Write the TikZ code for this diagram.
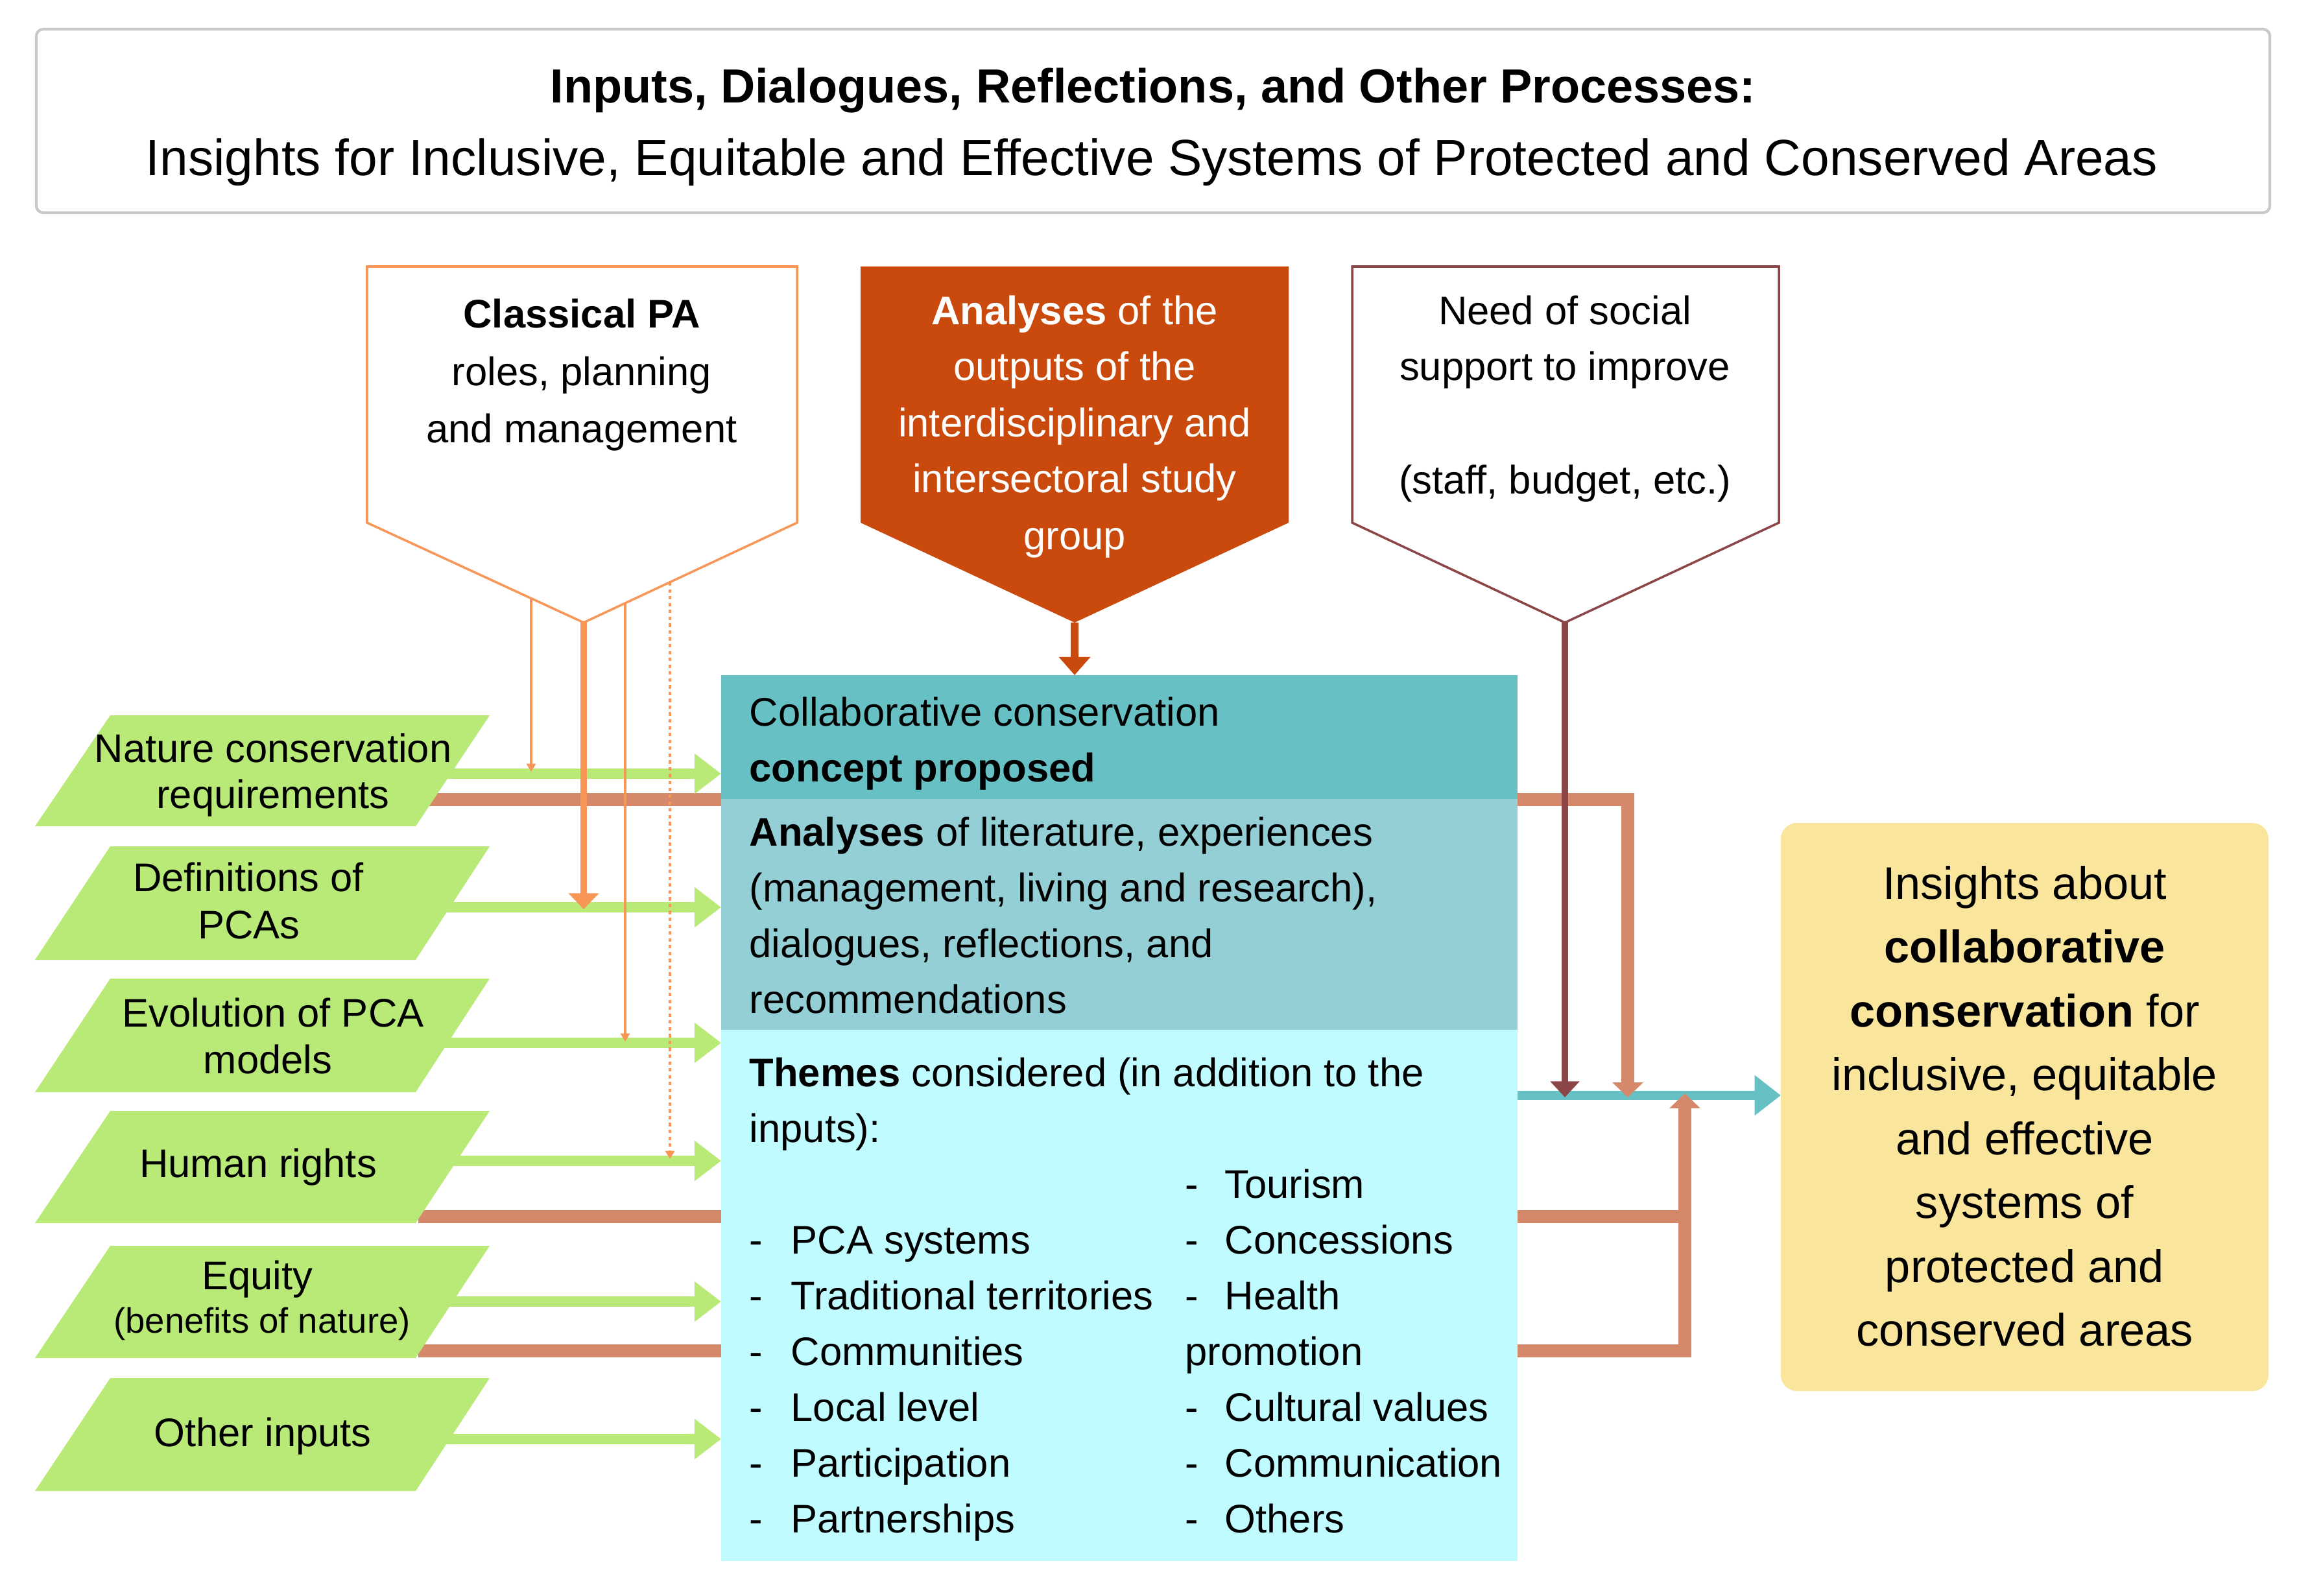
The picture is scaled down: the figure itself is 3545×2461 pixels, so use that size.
\documentclass[tikz,border=0pt]{standalone}
\usepackage{fontspec}
\setmainfont{Liberation Sans}
\usetikzlibrary{arrows.meta}
\definecolor{grn}{RGB}{185,234,120}
\definecolor{paor}{RGB}{248,150,88}
\definecolor{dor}{RGB}{201,74,12}
\definecolor{maro}{RGB}{140,70,72}
\definecolor{salm}{RGB}{213,137,106}
\definecolor{tealA}{RGB}{103,192,196}
\definecolor{tealB}{RGB}{148,207,214}
\definecolor{tealC}{RGB}{192,251,255}
\definecolor{yel}{RGB}{249,230,156}
\definecolor{gryb}{RGB}{200,200,200}
\newcommand{\pgram}[2]{\fill[grn] (170,#1) -- (755,#1) -- (641,#2) -- (54,#2) -- cycle;}
\begin{document}
\begin{tikzpicture}[x=0.01cm,y=-0.01cm,
  txt/.style={inner sep=0pt, font=\fontsize{17.5pt}{21pt}\selectfont},
  ttl/.style={inner sep=0pt, anchor=base},
  ins/.style={inner sep=0pt, anchor=base, font=\fontsize{20pt}{24pt}\selectfont},
  bw/.style={txt, anchor=base west},
  bc/.style={txt, anchor=base},
  garrow/.style={draw=grn, line width=4.3pt, -{Triangle[length=11.7pt,width=17pt]}},
  sline/.style={draw=salm, line width=5.6pt},
  thinor/.style={draw=paor, line width=0.9pt, -{Triangle[length=3.5pt,width=4pt]}}]
\useasboundingbox (0,0) rectangle (3545,2461);

% title
\draw[gryb, line width=1.2pt, rounded corners=3pt] (56,45) rectangle (3500,328);
\node[ttl, font=\bfseries\fontsize{21pt}{25pt}\selectfont] (ttl1) at (1778,159) {Inputs, Dialogues, Reflections, and Other Processes:};
\node[ttl, font=\fontsize{22.3pt}{27pt}\selectfont] (ttl2) at (1776,271) {Insights for Inclusive, Equitable and Effective Systems of Protected and Conserved Areas};

% top pentagons
\draw[paor, line width=1pt, fill=white] (566,411) -- (1229,411) -- (1229,806) -- (900,960) -- (566,806) -- cycle;
\coordinate (cpa) at (900,960);
\fill[dor] (1327,411) -- (1987,411) -- (1987,806) -- (1657,960) -- (1327,806) -- cycle;
\coordinate (ana) at (1657,960);
\draw[maro, line width=1pt, fill=white] (2085,411) -- (2743,411) -- (2743,806) -- (2413,960) -- (2085,806) -- cycle;
\coordinate (need) at (2413,960);

\node[bc] (c1) at (897,506) {\textbf{Classical PA}};
\node[bc] (c2) at (897,594) {roles, planning};
\node[bc] (c3) at (897,682) {and management};

\node[bc, text=white] (a1) at (1657,501) {\textbf{Analyses} of the};
\node[bc, text=white] (a2) at (1657,587) {outputs of the};
\node[bc, text=white] (a3) at (1657,673) {interdisciplinary and};
\node[bc, text=white] (a4) at (1657,759) {intersectoral study};
\node[bc, text=white] (a5) at (1657,847) {group};

\node[bc] (n1) at (2413,501) {Need of social};
\node[bc] (n2) at (2413,587) {support to improve};
\node[bc] (n3) at (2413,761) {(staff, budget, etc.)};

% salmon connectors (behind)
\coordinate (s1a) at (600,1233);
\coordinate (s1b) at (2510,1233);
\coordinate (s1c) at (2510,1692);
\coordinate (s2a) at (645,1876);
\coordinate (s2b) at (2598,1876);
\coordinate (s3a) at (645,2083);
\coordinate (s3b) at (2598,2083);
\coordinate (s3c) at (2598,1686);
\draw[sline, -{Triangle[length=6.5pt,width=13pt]}] (s1a) -- (s1b) -- (s1c);
\draw[sline] (s2a) -- (s2b);
\draw[sline, -{Triangle[length=6.5pt,width=13pt]}] (s3a) -- (s3b) -- (s3c);

% green arrows
\coordinate (mbl1) at (1112,1193);
\coordinate (mbl2) at (1112,1399);
\coordinate (mbl3) at (1112,1608);
\coordinate (mbl4) at (1112,1790);
\coordinate (mbl5) at (1112,2007);
\coordinate (mbl6) at (1112,2219);
\draw[garrow] (600,1193) -- (mbl1);
\draw[garrow] (600,1399) -- (mbl2);
\draw[garrow] (600,1608) -- (mbl3);
\draw[garrow] (600,1790) -- (mbl4);
\draw[garrow] (600,2007) -- (mbl5);
\draw[garrow] (600,2219) -- (mbl6);

% parallelograms
\pgram{1103}{1274}
\pgram{1305}{1480}
\pgram{1509}{1684}
\pgram{1713}{1886}
\pgram{1921}{2094}
\pgram{2125}{2299}
\node[bc] (p1a) at (421,1175) {Nature conservation};
\node[bc] (p1b) at (421,1246) {requirements};
\node[bc] (p2a) at (383,1374) {Definitions of};
\node[bc] (p2b) at (384,1447) {PCAs};
\node[bc] (p3a) at (421,1583) {Evolution of PCA};
\node[bc] (p3b) at (413,1655) {models};
\node[bc] (p4) at (398,1815) {Human rights};
\node[bc] (p5a) at (397,1988) {Equity};
\node[bc, font=\fontsize{15.5pt}{19pt}\selectfont] (p5b) at (404,2055) {(benefits of nature)};
\node[bc] (p6) at (405,2230) {Other inputs};

% main box
\fill[tealA] (1112,1041) rectangle (2340,1232);
\fill[tealB] (1112,1232) rectangle (2340,1588);
\fill[tealC] (1112,1588) rectangle (2340,2407);
\coordinate (mbtop) at (1657,1041);
\coordinate (mbr) at (2340,1689);

\node[bw] (m1) at (1155,1119) {Collaborative conservation};
\node[bw] (m2) at (1155,1205) {\textbf{concept proposed}};
\node[bw] (m3) at (1155,1304) {\textbf{Analyses} of literature, experiences};
\node[bw] (m4) at (1155,1390) {(management, living and research),};
\node[bw] (m5) at (1155,1476) {dialogues, reflections, and};
\node[bw] (m6) at (1155,1562) {recommendations};
\node[bw] (m7) at (1155,1675) {\textbf{Themes} considered (in addition to the};
\node[bw] (m8) at (1155,1761) {inputs):};

\node[bw] (ld1) at (1155,1933) {-};
\node[bw] (lt1) at (1219,1933) {PCA systems};
\node[bw] (ld2) at (1155,2019) {-};
\node[bw] (lt2) at (1219,2019) {Traditional territories};
\node[bw] (ld3) at (1155,2105) {-};
\node[bw] (lt3) at (1219,2105) {Communities};
\node[bw] (ld4) at (1155,2191) {-};
\node[bw] (lt4) at (1219,2191) {Local level};
\node[bw] (ld5) at (1155,2277) {-};
\node[bw] (lt5) at (1219,2277) {Participation};
\node[bw] (ld6) at (1155,2363) {-};
\node[bw] (lt6) at (1219,2363) {Partnerships};

\node[bw] (rd1) at (1827,1847) {-};
\node[bw] (rt1) at (1888,1847) {Tourism};
\node[bw] (rd2) at (1827,1933) {-};
\node[bw] (rt2) at (1888,1933) {Concessions};
\node[bw] (rd3) at (1827,2019) {-};
\node[bw] (rt3) at (1888,2019) {Health};
\node[bw] (rt3b) at (1827,2105) {promotion};
\node[bw] (rd4) at (1827,2191) {-};
\node[bw] (rt4) at (1888,2191) {Cultural values};
\node[bw] (rd5) at (1827,2277) {-};
\node[bw] (rt5) at (1888,2277) {Communication};
\node[bw] (rd6) at (1827,2363) {-};
\node[bw] (rt6) at (1888,2363) {Others};

% orange connectors from Classical PA
\coordinate (o1a) at (819,923);
\coordinate (o1b) at (819,1190);
\coordinate (o2b) at (900,1402);
\coordinate (o3a) at (964,930);
\coordinate (o3b) at (964,1606);
\coordinate (o4a) at (1033,898);
\coordinate (o4b) at (1033,1787);
\draw[thinor] (o1a) -- (o1b);
\draw[draw=paor, line width=2.8pt, -{Triangle[length=7pt,width=13pt]}] (cpa) -- (o2b);
\draw[thinor] (o3a) -- (o3b);
\draw[thinor, dash pattern=on 1.5pt off 1.5pt] (o4a) -- (o4b);

% analyses arrow
\draw[draw=dor, line width=3.2pt, -{Triangle[length=8pt,width=13.5pt]}] (ana) -- (mbtop);

% insights box
\fill[yel, rounded corners=7pt] (2746,1269) rectangle (3498,2145);
\coordinate (insl) at (2746,1689);
\node[ins] (i1) at (3122,1386) {Insights about};
\node[ins] (i2) at (3122,1484) {\textbf{collaborative}};
\node[ins] (i3) at (3122,1583) {\textbf{conservation} for};
\node[ins] (i4) at (3122,1681) {inclusive, equitable};
\node[ins] (i5) at (3122,1780) {and effective};
\node[ins] (i6) at (3122,1878) {systems of};
\node[ins] (i7) at (3122,1977) {protected and};
\node[ins] (i8) at (3122,2075) {conserved areas};

% teal output arrow
\draw[draw=tealA, line width=4pt, -{Triangle[length=11.5pt,width=17pt]}] (mbr) -- (insl);
% need arrow
\coordinate (needend) at (2413,1692);
\draw[draw=maro, line width=2.8pt, -{Triangle[length=7pt,width=12.5pt]}] (need) -- (needend);
% redraw salmon heads on top of teal
\draw[sline, -{Triangle[length=6.5pt,width=13pt]}] (2510,1600) -- (s1c);
\draw[sline, -{Triangle[length=6.5pt,width=13pt]}] (2598,1760) -- (s3c);
\end{tikzpicture}
\end{document}
